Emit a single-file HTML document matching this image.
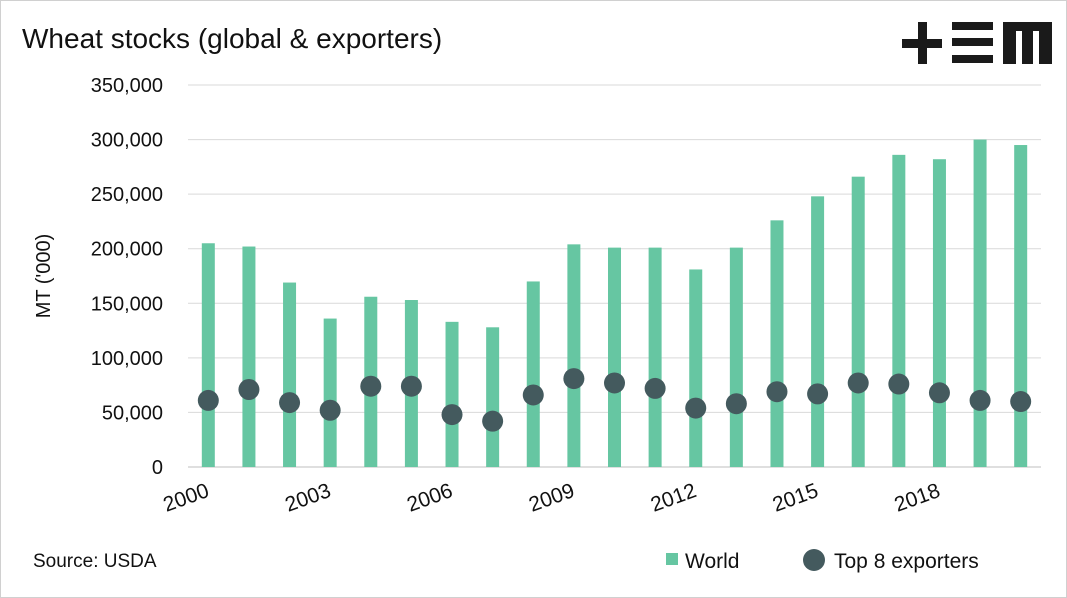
<!DOCTYPE html>
<html><head><meta charset="utf-8"><style>
body{margin:0;background:#fff;}
svg{display:block;font-family:"Liberation Sans",sans-serif;}
</style></head><body>
<svg width="1067" height="598" viewBox="0 0 1067 598">
<rect x="0.5" y="0.5" width="1066" height="597" fill="#fff" stroke="#d0d0d0"/>
<text x="22" y="48" font-size="28" fill="#111">Wheat stocks (global &amp; exporters)</text>
<g fill="#1a1a1a">
<rect x="902" y="39" width="40" height="9"/><rect x="918" y="22" width="9" height="42"/>
<rect x="952" y="22" width="41" height="8"/><rect x="952" y="38" width="41" height="8"/><rect x="952" y="55" width="41" height="8"/>
<path d="M1003 22H1052V64H1039V31H1033V64H1022V31H1016V64H1003Z"/>
</g>
<g id="grid"></g><g id="yt"></g><g id="bars"></g><g id="dots"></g><g id="xt"></g>
<text transform="translate(50,276) rotate(-90)" text-anchor="middle" font-size="20" fill="#111">MT ('000)</text>
<text x="33" y="567" font-size="19" fill="#111">Source: USDA</text>
<g>
<rect x="666" y="553" width="12" height="12" fill="#66c6a2"/>
<text x="685" y="568" font-size="21" fill="#111">World</text>
<circle cx="814" cy="560" r="11" fill="#445a5e"/>
<text x="834" y="568" font-size="21" fill="#111">Top 8 exporters</text>
</g>
</svg>
<script>
const years=[2000,2001,2002,2003,2004,2005,2006,2007,2008,2009,2010,2011,2012,2013,2014,2015,2016,2017,2018,2019,2020];
const world=[205,202,169,136,156,153,133,128,170,204,201,201,181,201,226,248,266,286,282,300,295];
const exporters=[61,71,59,52,74,74,48,42,66,81,77,72,54,58,69,67,77,76,68,61,60];
const yTicks=[0,50,100,150,200,250,300,350];
const xLabelYears=[2000,2003,2006,2009,2012,2015,2018];
const NS="http://www.w3.org/2000/svg";
const L=188,R=1041,Y0=467,Y1=85;
const y=v=>Y0-(v/350)*(Y0-Y1);
const step=(R-L)/years.length;
const x=i=>L+step*(i+0.5);
function mk(t,a,p){const e=document.createElementNS(NS,t);for(const k in a)e.setAttribute(k,a[k]);document.getElementById(p).appendChild(e);return e;}
yTicks.forEach(v=>{
 const g=mk('line',{x1:L,x2:R,y1:y(v),y2:y(v),stroke:v?'#d9d9d9':'#bfbfbf','stroke-width':1},'grid');
 
 
 const t=mk('text',{x:163,y:y(v)+7,'text-anchor':'end','font-size':20,fill:'#111'},'yt');
 t.textContent=v?(v+',000'):'0';
 
 
});
years.forEach((yr,i)=>{
 const b=mk('rect',{x:x(i)-6.5,y:y(world[i]),width:13,height:Y0-y(world[i]),fill:'#66c6a2'},'bars');
 
 
 const c=mk('circle',{cx:x(i),cy:y(exporters[i]),r:10.5,fill:'#445a5e'},'dots');
 
 
});
xLabelYears.forEach(yr=>{
 const i=years.indexOf(yr);
 const t=mk('text',{transform:`translate(${x(i)+2},${496}) rotate(-20)`,'text-anchor':'end','font-size':21,fill:'#111'},'xt');
 t.textContent=yr;
 
 
});
</script>
</body></html>
